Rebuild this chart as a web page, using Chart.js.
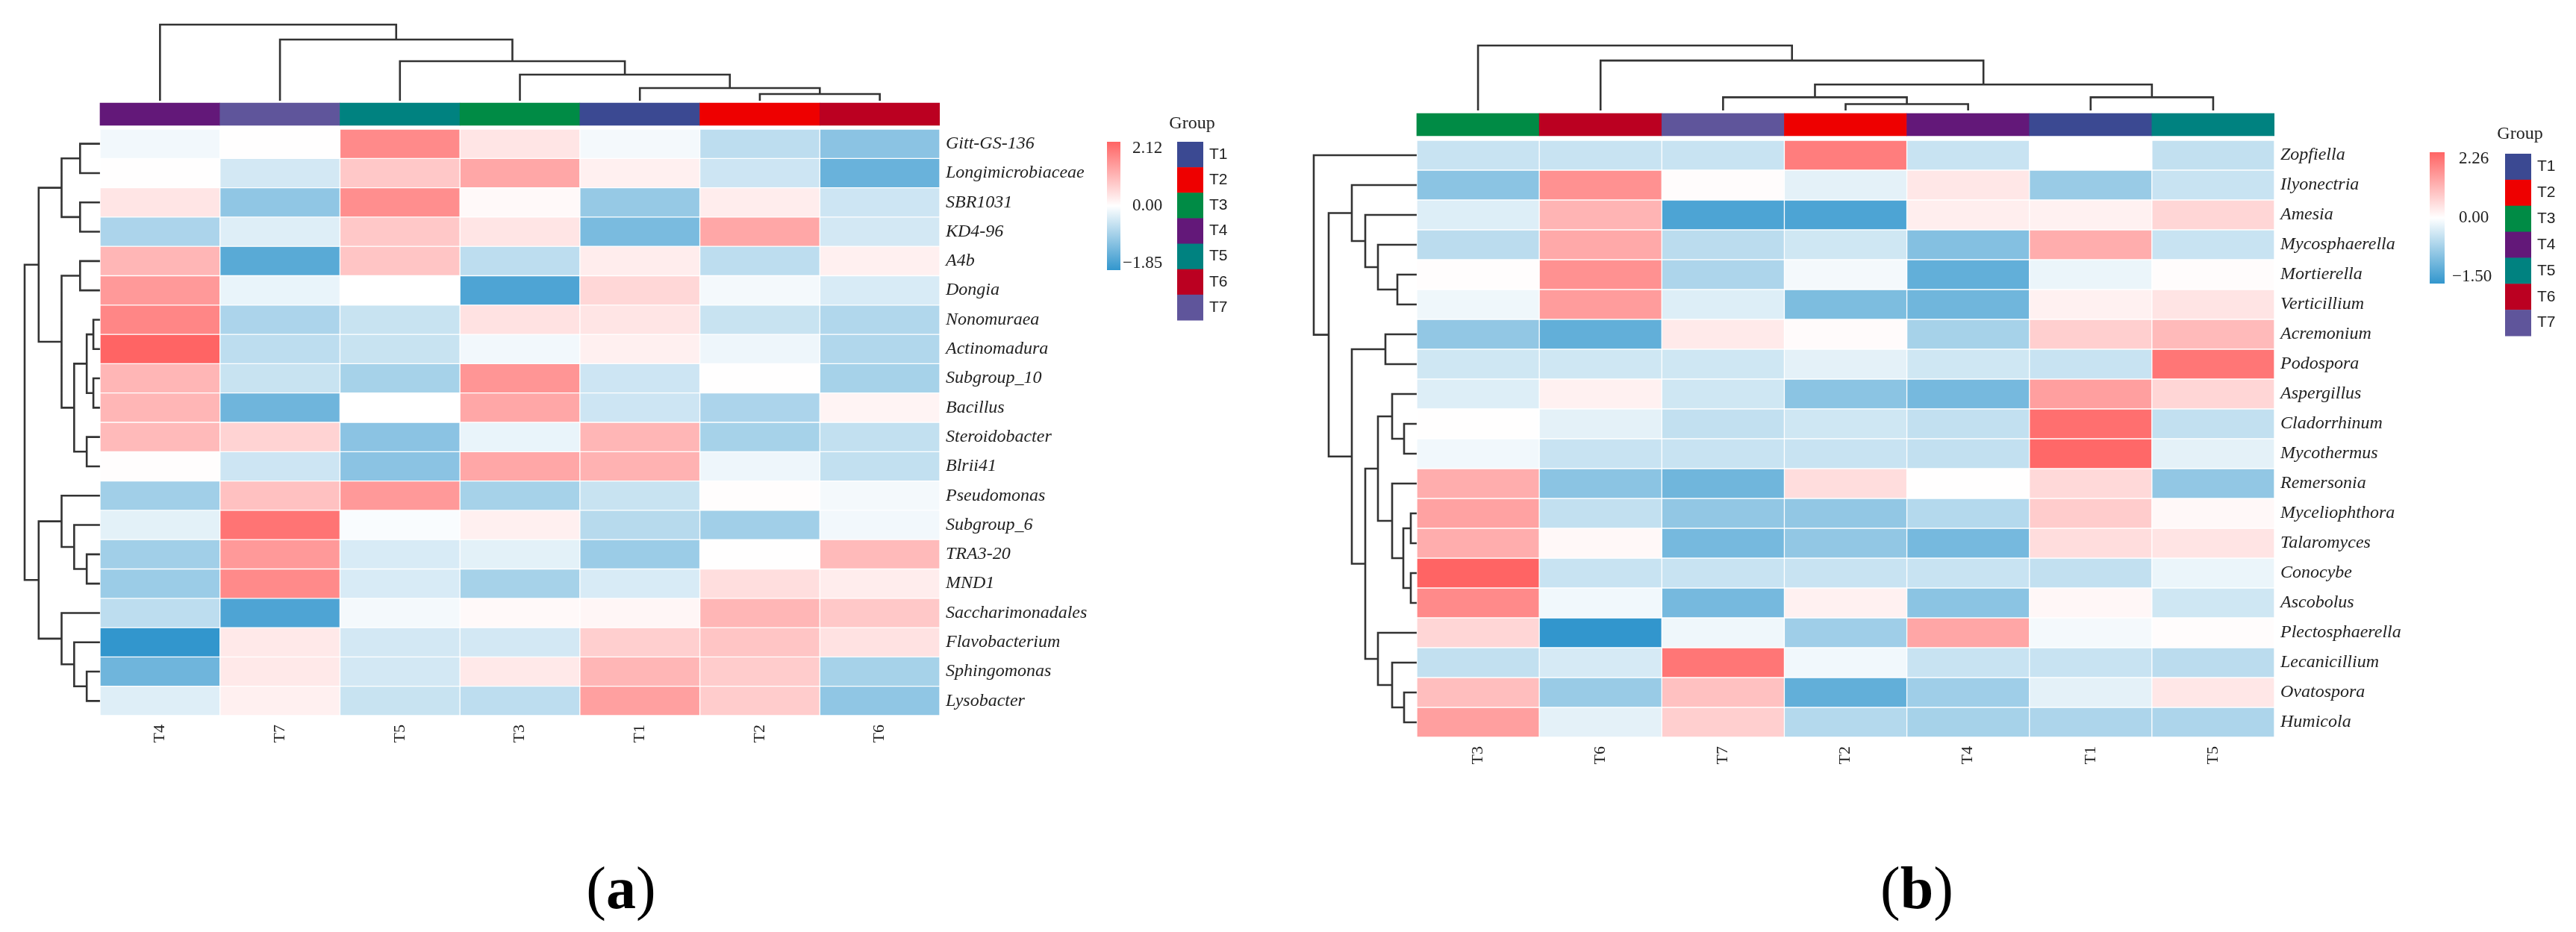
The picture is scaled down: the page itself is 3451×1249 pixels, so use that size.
<!DOCTYPE html>
<html>
<head>
<meta charset="utf-8">
<title>Clustered heatmaps (a) bacteria (b) fungi</title>
<script src="https://cdn.jsdelivr.net/npm/chart.js@4.4.1/dist/chart.umd.min.js"></script>
<style>
  html, body { margin: 0; padding: 0; background: #fff; }
  body { width: 3451px; height: 1249px; position: relative; overflow: hidden; }
  .panel { position: absolute; top: 0; height: 1249px; }
  .panel canvas { display: block; }
  .cap { position: absolute; top: 1150px; font-family: "Liberation Serif", serif; font-size: 80px;
         line-height: 1; color: #000; transform: translateX(-50%); white-space: nowrap; }
</style>
</head>
<body>
<div class="panel" style="left:0;width:1725px"><canvas id="heatA"></canvas></div>
<div class="panel" style="left:1725px;width:1726px"><canvas id="heatB"></canvas></div>
<div class="cap" style="left:832px">(<b>a</b>)</div>
<div class="cap" style="left:2568px">(<b>b</b>)</div>
<script>
/*********************************************/
/*                 Chart data                */
/*********************************************/

// group annotation colours
const groupNames = ["T1", "T2", "T3", "T4", "T5", "T6", "T7"];
const groupColors = ["#3B4992", "#EE0000", "#008B45", "#631879", "#008280", "#BB0021", "#5F559B"];

// panel (a) - bacteria
const colsA = ["T4", "T7", "T5", "T3", "T1", "T2", "T6"];
const rowsA = ["Gitt-GS-136", "Longimicrobiaceae", "SBR1031", "KD4-96", "A4b", "Dongia",
  "Nonomuraea", "Actinomadura", "Subgroup_10", "Bacillus", "Steroidobacter", "Blrii41",
  "Pseudomonas", "Subgroup_6", "TRA3-20", "MND1", "Saccharimonadales", "Flavobacterium",
  "Sphingomonas", "Lysobacter"];
const valsA = [
  [-0.12, 0.02, 1.60, 0.35, -0.10, -0.60, -1.05],
  [0.02, -0.40, 0.75, 1.20, 0.20, -0.45, -1.35],
  [0.35, -1.00, 1.55, 0.08, -0.95, 0.25, -0.45],
  [-0.75, -0.30, 0.75, 0.35, -1.20, 1.20, -0.40],
  [1.00, -1.50, 0.80, -0.60, 0.25, -0.60, 0.20],
  [1.40, -0.20, 0.00, -1.60, 0.55, -0.10, -0.35],
  [1.65, -0.75, -0.50, 0.40, 0.35, -0.50, -0.70],
  [2.12, -0.60, -0.50, -0.12, 0.20, -0.15, -0.70],
  [1.00, -0.50, -0.80, 1.45, -0.45, 0.02, -0.80],
  [1.00, -1.30, 0.00, 1.20, -0.45, -0.75, 0.15],
  [0.95, 0.60, -1.05, -0.20, 1.00, -0.80, -0.55],
  [0.03, -0.45, -1.05, 1.20, 1.05, -0.15, -0.55],
  [-0.85, 0.85, 1.40, -0.80, -0.50, 0.03, -0.10],
  [-0.25, 1.90, -0.05, 0.20, -0.65, -0.85, -0.12],
  [-0.85, 1.40, -0.35, -0.25, -0.90, 0.02, 0.95],
  [-0.90, 1.60, -0.35, -0.80, -0.35, 0.45, 0.25],
  [-0.60, -1.60, -0.10, 0.08, 0.12, 1.00, 0.75],
  [-1.85, 0.30, -0.40, -0.40, 0.65, 0.80, 0.40],
  [-1.30, 0.30, -0.40, 0.30, 1.00, 0.70, -0.80],
  [-0.30, 0.20, -0.50, -0.60, 1.30, 0.70, -1.00]
];
const rangeA = [-1.85, 2.12];
// merges: [childA, childB, height]; negative = leaf (1-based), positive = earlier merge
const rowMergeA = [
  [-7, -8, 9], [-9, -10, 9], [1, 2, 18], [-11, -12, 18], [3, 4, 35], [-5, -6, 27],
  [6, 5, 52], [-1, -2, 27], [-3, -4, 27], [8, 9, 52], [10, 7, 83], [-15, -16, 18],
  [-14, 12, 35], [-13, 13, 52], [-19, -20, 18], [-18, 15, 35], [-17, 16, 52],
  [14, 17, 83], [11, 18, 102]
];
const colMergeA = [[-6, -7, 9], [-5, 1, 17], [-4, 2, 35], [-3, 3, 53], [-2, 4, 82], [-1, 5, 102]];

// panel (b) - fungi
const colsB = ["T3", "T6", "T7", "T2", "T4", "T1", "T5"];
const rowsB = ["Zopfiella", "Ilyonectria", "Amesia", "Mycosphaerella", "Mortierella",
  "Verticillium", "Acremonium", "Podospora", "Aspergillus", "Cladorrhinum", "Mycothermus",
  "Remersonia", "Myceliophthora", "Talaromyces", "Conocybe", "Ascobolus", "Plectosphaerella",
  "Lecanicillium", "Ovatospora", "Humicola"];
const valsB = [
  [-0.40, -0.40, -0.40, 1.90, -0.40, 0.00, -0.45],
  [-0.85, 1.60, 0.05, -0.20, 0.35, -0.75, -0.40],
  [-0.25, 1.10, -1.30, -1.30, 0.25, 0.20, 0.60],
  [-0.50, 1.25, -0.50, -0.35, -0.90, 1.20, -0.40],
  [0.03, 1.60, -0.60, -0.08, -1.15, -0.15, 0.05],
  [-0.12, 1.45, -0.25, -0.95, -1.05, 0.20, 0.40],
  [-0.80, -1.15, 0.30, 0.06, -0.65, 0.70, 1.00],
  [-0.35, -0.35, -0.35, -0.20, -0.35, -0.40, 2.00],
  [-0.25, 0.20, -0.35, -0.85, -1.00, 1.40, 0.60],
  [0.02, -0.20, -0.45, -0.35, -0.45, 2.10, -0.45],
  [-0.10, -0.40, -0.40, -0.40, -0.45, 2.20, -0.20],
  [1.20, -0.85, -1.05, 0.50, 0.02, 0.55, -0.80],
  [1.35, -0.45, -0.80, -0.80, -0.55, 0.75, 0.10],
  [1.20, 0.10, -1.00, -0.80, -1.00, 0.50, 0.40],
  [2.26, -0.40, -0.40, -0.40, -0.40, -0.45, -0.15],
  [1.70, -0.10, -1.00, 0.20, -0.85, 0.12, -0.35],
  [0.60, -1.50, -0.12, -0.70, 1.30, -0.08, 0.05],
  [-0.45, -0.30, 2.00, -0.10, -0.40, -0.40, -0.50],
  [0.95, -0.75, 0.90, -1.15, -0.70, -0.20, 0.35],
  [1.40, -0.20, 0.70, -0.55, -0.65, -0.60, -0.60]
];
const rangeB = [-1.50, 2.26];
const rowMergeB = [
  [-5, -6, 26], [-4, 1, 52], [-3, 2, 69], [-2, 3, 87], [-7, -8, 42], [-10, -11, 17],
  [-9, 6, 33], [-13, -14, 8], [-15, -16, 8], [8, 9, 18], [-12, 10, 33], [7, 11, 52],
  [-19, -20, 17], [-18, 13, 33], [-17, 14, 52], [12, 15, 69], [5, 16, 87], [4, 17, 118],
  [-1, 18, 138]
];
const colMergeB = [[-4, -5, 8.5], [-3, 1, 17.5], [-6, -7, 17.5], [2, 3, 34.5], [-2, 4, 66.5], [-1, 5, 86.5]];

/*********************************************/
/*                  Helpers                  */
/*********************************************/

const lowColor = [50, 150, 205];
const highColor = [255, 100, 100];

// diverging blue - white - red, white fixed at 0
function cellColor(v, range) {
  const end = v < 0 ? lowColor : highColor;
  const t = Math.min(1, v < 0 ? v / range[0] : v / range[1]);
  const c = end.map((e) => Math.round(255 + (e - 255) * t));
  return "rgb(" + c[0] + "," + c[1] + "," + c[2] + ")";
}

// elbow polylines of a dendrogram, leaves sit at index + 0.5
function dendroPoints(merges, toPoint) {
  const pos = [];
  const hgt = [];
  const child = (c) => (c < 0 ? [-c - 0.5, 0] : [pos[c - 1], hgt[c - 1]]);
  const pts = [];
  merges.forEach(function (m) {
    const a = child(m[0]);
    const b = child(m[1]);
    pts.push(toPoint(a[0], a[1]), toPoint(a[0], m[2]), toPoint(b[0], m[2]), toPoint(b[0], b[1]));
    pts.push({ x: null, y: null });
    pos.push((a[0] + b[0]) / 2);
    hgt.push(m[2]);
  });
  return pts;
}

const AXIS_W = 200; // room for row names
const AXIS_H = 60;  // room for column names

function makePanel(id, d, box, lg) {
  const canvas = document.getElementById(id);
  const W = canvas.parentNode.clientWidth;
  const H = canvas.parentNode.clientHeight;
  const colW = (box.heatRight - box.heatLeft) / d.cols.length;
  const rowH = (box.heatBottom - box.heatTop) / d.rows.length;
  const areaLeft = box.rowRootX - 4;
  const areaTop = box.colRootY - 4;

  const maxH = (m) => Math.max.apply(null, m.map((r) => r[2]));
  const kx = (box.heatLeft - box.rowRootX) / colW / maxH(d.rowMerge);
  const leafY = -(box.heatTop - box.colLeafY) / rowH;
  const ky = (box.colLeafY - box.colRootY) / rowH / maxH(d.colMerge);

  const lineStyle = {
    type: "line", borderColor: "#333", borderWidth: 2.6, pointRadius: 0, fill: false,
    tension: 0, spanGaps: false, borderJoinStyle: "miter", borderCapStyle: "butt"
  };

  // one bar dataset per row, floating bars cover one cell each
  const datasets = d.rows.map((name, i) => ({
    type: "bar",
    label: name,
    data: d.cols.map((c, j) => ({ x: j + 0.5, y: [i, i + 1] })),
    backgroundColor: d.vals[i].map((v) => cellColor(v, d.range)),
    borderColor: "#ffffff",
    borderWidth: 1,
    borderSkipped: false,
    grouped: false,
    barPercentage: 1,
    categoryPercentage: 1
  }));

  // group annotation strip
  datasets.push({
    type: "bar",
    label: "Group",
    data: d.cols.map((c, j) => ({
      x: j + 0.5,
      y: [-(box.heatTop - box.barTop) / rowH, -(box.heatTop - box.barBottom) / rowH]
    })),
    backgroundColor: d.cols.map((c) => groupColors[groupNames.indexOf(c)]),
    borderWidth: 0,
    grouped: false,
    barPercentage: 1,
    categoryPercentage: 1
  });

  datasets.push(Object.assign({ label: "row tree",
    data: dendroPoints(d.rowMerge, (p, h) => ({ x: -h * kx, y: p })) }, lineStyle));
  datasets.push(Object.assign({ label: "column tree",
    data: dendroPoints(d.colMerge, (p, h) => ({ x: p, y: leafY - h * ky })) }, lineStyle));

  // colour key + group key
  const keyPlugin = {
    id: "key_" + id,
    afterDraw(chart) {
      const ctx = chart.ctx;
      ctx.save();
      const g = ctx.createLinearGradient(0, lg.barTop, 0, lg.barBottom);
      g.addColorStop(0, cellColor(d.range[1], d.range));
      g.addColorStop(0.5, "#ffffff");
      g.addColorStop(1, cellColor(d.range[0], d.range));
      ctx.fillStyle = g;
      ctx.fillRect(lg.barLeft, lg.barTop, lg.barWidth, lg.barBottom - lg.barTop);

      ctx.fillStyle = "#222";
      ctx.font = '23px "Liberation Serif"';
      ctx.textAlign = "left";
      ctx.textBaseline = "middle";
      ctx.fillText(d.range[1].toFixed(2), lg.numX, lg.barTop + 9);
      ctx.fillText((0).toFixed(2), lg.numX, (lg.barTop + lg.barBottom) / 2);
      ctx.fillText("\u2212" + Math.abs(d.range[0]).toFixed(2), lg.minX, lg.barBottom - 9);

      ctx.font = '24px "Liberation Serif"';
      ctx.textAlign = "center";
      ctx.fillText("Group", lg.titleX, lg.titleY);

      const bh = (lg.boxBottom - lg.boxTop) / groupNames.length;
      ctx.font = '21px "Liberation Sans"';
      ctx.textAlign = "left";
      groupNames.forEach(function (name, k) {
        ctx.fillStyle = groupColors[k];
        ctx.fillRect(lg.boxLeft, lg.boxTop + k * bh, lg.boxW, bh + 0.5);
        ctx.fillStyle = "#222";
        ctx.fillText(name, lg.boxLeft + lg.boxW + 8, lg.boxTop + (k + 0.5) * bh);
      });
      ctx.restore();
    }
  };

  const config = {
    type: "bar",
    data: { datasets: datasets },
    options: {
      responsive: true,
      maintainAspectRatio: false,
      animation: false,
      events: [],
      layout: {
        padding: {
          left: areaLeft,
          top: areaTop,
          right: W - box.heatRight - AXIS_W,
          bottom: H - box.heatBottom - AXIS_H
        }
      },
      plugins: { legend: { display: false }, tooltip: { enabled: false } },
      scales: {
        x: {
          type: "linear",
          offset: false,
          min: -(box.heatLeft - areaLeft) / colW,
          max: d.cols.length,
          grid: { display: false, drawTicks: false },
          border: { display: false },
          afterBuildTicks: (s) => { s.ticks = d.cols.map((c, j) => ({ value: j + 0.5 })); },
          afterFit: (s) => { s.height = AXIS_H; },
          ticks: {
            autoSkip: false, minRotation: 90, maxRotation: 90, padding: 12, color: "#222",
            font: { family: "Liberation Serif", size: 22 },
            callback: (v, i) => d.cols[i]
          }
        },
        y: {
          type: "linear",
          position: "right",
          reverse: true,
          offset: false,
          min: -(box.heatTop - areaTop) / rowH,
          max: d.rows.length,
          grid: { display: false, drawTicks: false },
          border: { display: false },
          afterBuildTicks: (s) => { s.ticks = d.rows.map((r, i) => ({ value: i + 0.5 })); },
          afterFit: (s) => { s.width = AXIS_W; },
          ticks: {
            autoSkip: false, padding: 8, color: "#222",
            font: { family: "Liberation Serif", style: "italic", size: 24 },
            callback: (v, i) => d.rows[i]
          }
        }
      }
    },
    plugins: [keyPlugin]
  };

  return new Chart(canvas, config);
}

/*********************************************/
/*                 Draw panels               */
/*********************************************/

const chartA = makePanel("heatA",
  { cols: colsA, rows: rowsA, vals: valsA, range: rangeA, rowMerge: rowMergeA, colMerge: colMergeA },
  { heatLeft: 134, heatRight: 1259, heatTop: 173, heatBottom: 959, barTop: 138, barBottom: 168,
    colLeafY: 135, colRootY: 33, rowRootX: 33 },
  { barLeft: 1483, barWidth: 18, barTop: 190, barBottom: 362, numX: 1517, minX: 1504,
    titleX: 1597, titleY: 166, boxLeft: 1577, boxW: 35, boxTop: 190, boxBottom: 429 });

const chartB = makePanel("heatB",
  { cols: colsB, rows: rowsB, vals: valsB, range: rangeB, rowMerge: rowMergeB, colMerge: colMergeB },
  { heatLeft: 173, heatRight: 1322, heatTop: 188, heatBottom: 988, barTop: 152, barBottom: 182,
    colLeafY: 148, colRootY: 61, rowRootX: 35 },
  { barLeft: 1530, barWidth: 20, barTop: 204, barBottom: 380, numX: 1569, minX: 1560,
    titleX: 1651, titleY: 180, boxLeft: 1631, boxW: 35, boxTop: 206, boxBottom: 450 });
</script>
</body>
</html>
